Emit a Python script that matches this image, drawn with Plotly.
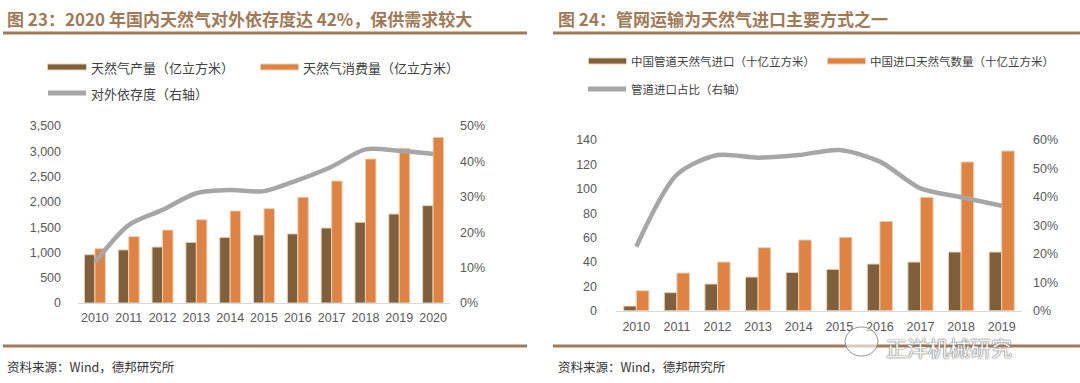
import plotly.graph_objects as go

# ---------------- data ----------------
years_l = ["2010", "2011", "2012", "2013", "2014", "2015", "2016", "2017", "2018", "2019", "2020"]
production = [955, 1050, 1107, 1200, 1298, 1345, 1366, 1483, 1597, 1760, 1925]
consumption = [1075, 1312, 1443, 1648, 1819, 1866, 2090, 2412, 2848, 3059, 3276]
dependence = [0.115, 0.22, 0.263, 0.31, 0.319, 0.316, 0.347, 0.385, 0.434, 0.430, 0.421]

years_r = ["2010", "2011", "2012", "2013", "2014", "2015", "2016", "2017", "2018", "2019"]
pipeline_import = [3.8, 14.8, 21.9, 27.6, 31.4, 33.9, 38.3, 39.9, 48.1, 48.1]
total_import = [16.4, 30.9, 39.9, 51.7, 58.0, 60.2, 73.3, 93.0, 122.0, 131.0]
pipeline_share = [0.225, 0.478, 0.547, 0.538, 0.547, 0.565, 0.524, 0.43, 0.399, 0.369]

title_l = "图 23：2020 年国内天然气对外依存度达 42%，保供需求较大"
title_r = "图 24：管网运输为天然气进口主要方式之一"
legend_l = ["天然气产量（亿立方米）", "天然气消费量（亿立方米）", "对外依存度（右轴）"]
legend_r = ["中国管道天然气进口（十亿立方米）", "中国进口天然气数量（十亿立方米）", "管道进口占比（右轴）"]
source = "资料来源：Wind，德邦研究所"
watermark = "正洋机械研究"

# ---------------- styles ----------------
W, H = 1080, 383
BROWN = "#7F5F3C"
ORANGE = "#E08242"
EDGE = "#E6D3B3"
GRAY = "#A6A6A6"
TITLE_C = "#A07A56"
TICK_C = "#595959"
FONT = "Noto Sans CJK SC, Arial, sans-serif"
NUMFONT = "Arial, Liberation Sans, sans-serif"


def px(x):
    return x / W


def py(y):
    return 1 - y / H


fig = go.Figure()

# Left chart
fig.add_trace(go.Bar(x=years_l, y=production, name=legend_l[0], marker=dict(color=BROWN, line=dict(color=EDGE, width=1)),
                     xaxis="x", yaxis="y", showlegend=False))
fig.add_trace(go.Bar(x=years_l, y=consumption, name=legend_l[1], marker=dict(color=ORANGE, line=dict(color=EDGE, width=1)),
                     xaxis="x", yaxis="y", showlegend=False))
fig.add_trace(go.Scatter(x=years_l, y=dependence, name=legend_l[2], mode="lines",
                         line=dict(color=GRAY, width=4.5, shape="spline", smoothing=0.8),
                         xaxis="x", yaxis="y2", showlegend=False))

# Right chart
fig.add_trace(go.Bar(x=years_r, y=pipeline_import, name=legend_r[0], marker=dict(color=BROWN, line=dict(color=EDGE, width=1)),
                     xaxis="x2", yaxis="y3", showlegend=False))
fig.add_trace(go.Bar(x=years_r, y=total_import, name=legend_r[1], marker=dict(color=ORANGE, line=dict(color=EDGE, width=1)),
                     xaxis="x2", yaxis="y3", showlegend=False))
fig.add_trace(go.Scatter(x=years_r, y=pipeline_share, name=legend_r[2], mode="lines",
                         line=dict(color=GRAY, width=4.5, shape="spline", smoothing=0.8),
                         xaxis="x2", yaxis="y4", showlegend=False))

tickfont = dict(family=NUMFONT, size=12.5, color=TICK_C)
common_y = dict(showgrid=False, zeroline=False, showline=False, ticks="", tickfont=tickfont, automargin=False,
                fixedrange=True)
common_x = dict(showgrid=False, showline=True, linecolor="#D9D9D9", linewidth=1, ticks="", tickfont=tickfont,
                automargin=False, fixedrange=True, tickangle=0)

fig.update_layout(
    template="none",
    width=W, height=H, autosize=False,
    margin=dict(l=0, r=0, t=0, b=0, pad=0, autoexpand=False),
    paper_bgcolor="white", plot_bgcolor="rgba(0,0,0,0)",
    barmode="group", bargap=0.38, bargroupgap=0,
    showlegend=False,
    font=dict(family=FONT, color="#404040"),
    xaxis=dict(domain=[px(78), px(450)], anchor="y", tickmode="array", tickvals=years_l, ticktext=years_l,
               ticklabelstandoff=3, **common_x),
    yaxis=dict(domain=[py(303), py(126)], anchor="x", range=[0, 3500], dtick=500, tickformat=",",
               ticklabelstandoff=16, **common_y),
    yaxis2=dict(overlaying="y", anchor="x", side="right", range=[0, 0.5], dtick=0.1, tickformat=".0%",
                ticklabelstandoff=9, **common_y),
    xaxis2=dict(domain=[px(616), px(1022)], anchor="y3", tickmode="array", tickvals=years_r, ticktext=years_r,
                ticklabelstandoff=4, **common_x),
    yaxis3=dict(domain=[py(310.7), py(140)], anchor="x2", range=[0, 140], dtick=20,
                ticklabelstandoff=18, **common_y),
    yaxis4=dict(overlaying="y3", anchor="x2", side="right", range=[0, 0.6], dtick=0.1, tickformat=".0%",
                ticklabelstandoff=10, **common_y),
)

shapes = []
annotations = []

# Titles + underline + footer
for x0, x1, tx, title in [(3, 527, 5, title_l), (553, 1080, 556, title_r)]:
    annotations.append(dict(text=f"<b>{title}</b>", x=px(tx), y=py(18), xref="paper", yref="paper",
                            xanchor="left", yanchor="middle", showarrow=False,
                            font=dict(family=FONT, size=17, color=TITLE_C)))
    shapes.append(dict(type="line", xref="paper", yref="paper", x0=px(x0), x1=px(x1), y0=py(33), y1=py(33),
                       line=dict(color=TITLE_C, width=3)))
    shapes.append(dict(type="line", xref="paper", yref="paper", x0=px(x0), x1=px(x1), y0=py(346), y1=py(346),
                       line=dict(color=TITLE_C, width=3)))
    annotations.append(dict(text=source, x=px(tx), y=py(366), xref="paper", yref="paper",
                            xanchor="left", yanchor="middle", showarrow=False,
                            font=dict(family=FONT, size=12.5, color="#333333")))


# Legends (manual, thick-line swatches)
def legend_item(x0, x1, y, color, text, size, edge=None):
    if edge:
        shapes.append(dict(type="line", xref="paper", yref="paper", x0=px(x0 - 1), x1=px(x1 + 1), y0=py(y), y1=py(y),
                           line=dict(color=edge, width=7)))
    shapes.append(dict(type="line", xref="paper", yref="paper", x0=px(x0), x1=px(x1), y0=py(y), y1=py(y),
                       line=dict(color=color, width=5)))
    annotations.append(dict(text=text, x=px(x1 + 3), y=py(y), xref="paper", yref="paper",
                            xanchor="left", yanchor="middle", showarrow=False,
                            font=dict(family=FONT, size=size, color="#404040")))


legend_item(48, 86, 67, BROWN, legend_l[0], 13, EDGE)
legend_item(261, 298, 67, ORANGE, legend_l[1], 13, EDGE)
legend_item(48, 86, 93, GRAY, legend_l[2], 13)

legend_item(589, 626, 61, BROWN, legend_r[0], 11.5, EDGE)
legend_item(828, 865, 61, ORANGE, legend_r[1], 11.5, EDGE)
legend_item(588, 626, 89, GRAY, legend_r[2], 11.5)

# Watermark (overlaid, as in the source image)
shapes.append(dict(type="circle", xref="paper", yref="paper", x0=px(845), x1=px(878), y0=py(356), y1=py(327),
                   line=dict(color="rgba(120,120,120,0.8)", width=1), fillcolor="rgba(255,255,255,0.6)"))
annotations.append(dict(text=watermark, x=px(884), y=py(347), xref="paper", yref="paper",
                        xanchor="left", yanchor="middle", showarrow=False,
                        font=dict(family=FONT, size=21, color="rgba(255,255,255,0.95)",
                                  shadow="0px 0px 1px #555555, 0px 0px 2px #777777")))

fig.update_layout(shapes=shapes, annotations=annotations)

fig.write_html("out.html", config={"displayModeBar": False},
               post_script="document.body.style.margin='0';document.body.style.overflow='hidden';")
